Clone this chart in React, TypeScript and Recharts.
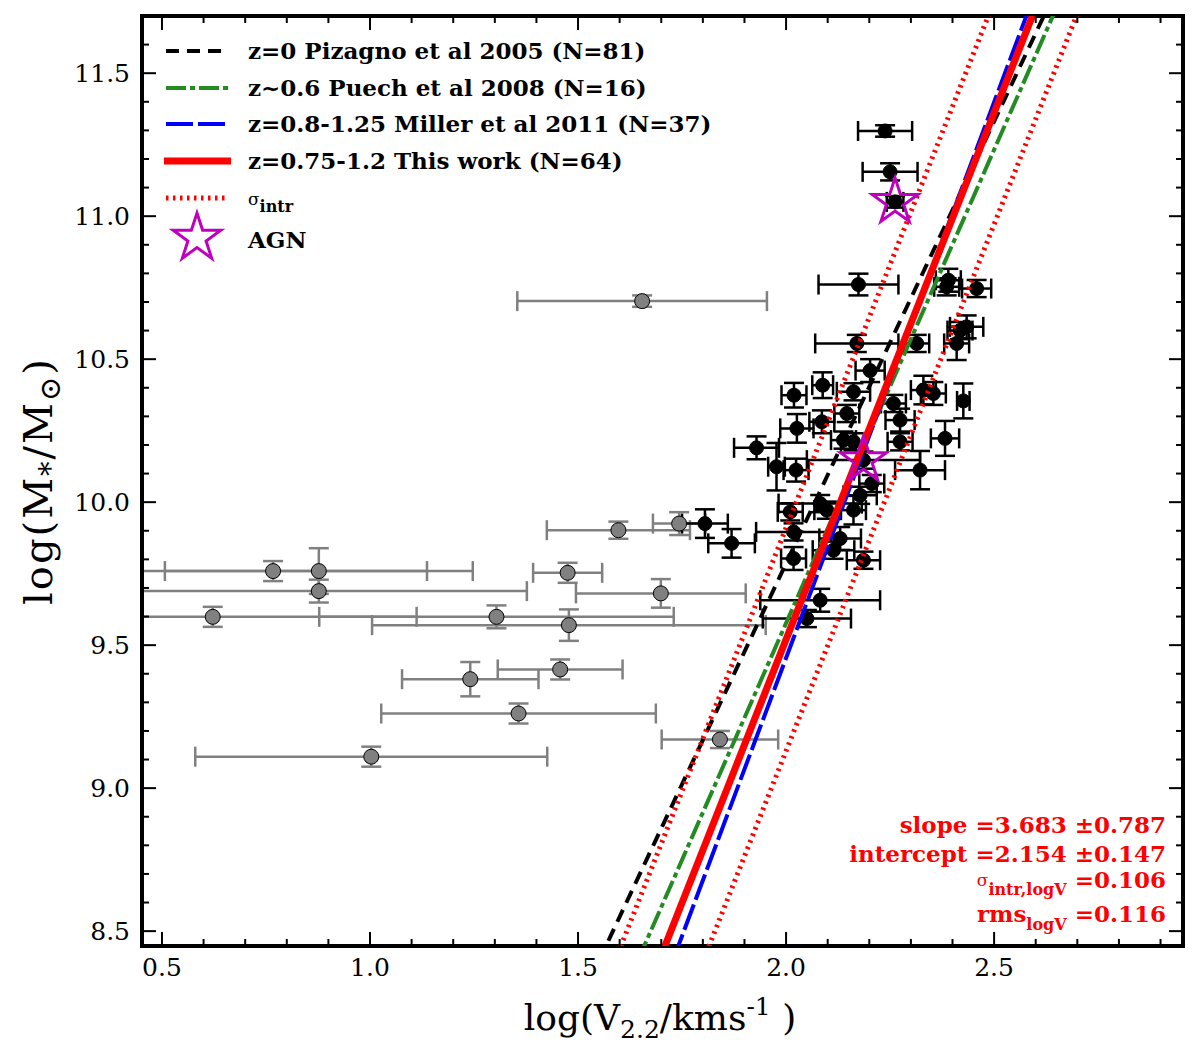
import React from 'react';
import { ComposedChart, Scatter, Line, XAxis, YAxis, ErrorBar } from 'recharts';

// ---------- data ----------
// grey points (excluded sample)
const greyX = [0.622, 0.767, 0.877, 0.877, 1.003, 1.241, 1.304, 1.357, 1.457, 1.475, 1.478, 1.597, 1.654, 1.699, 1.743, 1.841];
const greyY = [9.599, 9.759, 9.759, 9.689, 9.110, 9.381, 9.599, 9.261, 9.415, 9.753, 9.570, 9.902, 10.703, 9.681, 9.925, 9.170];
const greyXErr = [0.49, 0.37, 0.37, 0.50, 0.423, 0.164, 0.426, 0.33, 0.15, 0.083, 0.473, 0.172, 0.30, 0.204, 0.063, 0.14];
const greyYErr = [0.035, 0.035, 0.08, 0.04, 0.035, 0.06, 0.04, 0.035, 0.035, 0.035, 0.055, 0.03, 0.02, 0.05, 0.04, 0.03];

// black points (this work)
const blackX = [2.238, 2.250, 2.262, 2.174, 2.390, 2.386, 2.458, 2.418, 2.434, 2.410, 2.314, 2.170, 2.202, 2.088, 2.162, 2.019,
  2.330, 2.354, 2.426, 2.146, 2.258, 2.086, 2.026, 2.274, 2.138, 2.162, 1.929, 2.274, 2.382, 1.977, 2.024, 2.186,
  2.322, 2.206, 2.178, 2.082, 2.010, 2.098, 2.162, 2.018, 2.130, 2.114, 2.186, 2.018, 2.082, 2.050, 1.805, 1.869];
const blackY = [11.298, 11.155, 11.050, 10.761, 10.776, 10.753, 10.747, 10.600, 10.613, 10.555, 10.555, 10.555, 10.460, 10.409, 10.386, 10.374,
  10.392, 10.380, 10.354, 10.310, 10.345, 10.281, 10.258, 10.287, 10.217, 10.211, 10.190, 10.211, 10.223, 10.124, 10.112, 10.147,
  10.112, 10.065, 10.024, 9.995, 9.966, 9.972, 9.972, 9.896, 9.873, 9.832, 9.797, 9.803, 9.657, 9.593, 9.925, 9.856];
const blackXErr = [0.065, 0.066, 0.02, 0.096, 0.03, 0.03, 0.035, 0.03, 0.04, 0.03, 0.03, 0.10, 0.035, 0.025, 0.04, 0.03,
  0.03, 0.03, 0.015, 0.03, 0.03, 0.03, 0.04, 0.035, 0.03, 0.03, 0.054, 0.03, 0.034, 0.02, 0.03, 0.136,
  0.06, 0.03, 0.04, 0.10, 0.03, 0.03, 0.03, 0.09, 0.05, 0.05, 0.04, 0.03, 0.144, 0.106, 0.055, 0.056];
const blackYErr = [0.02, 0.03, 0.02, 0.038, 0.04, 0.03, 0.03, 0.03, 0.04, 0.058, 0.03, 0.03, 0.04, 0.045, 0.03, 0.043,
  0.05, 0.04, 0.061, 0.03, 0.03, 0.04, 0.05, 0.04, 0.03, 0.03, 0.04, 0.03, 0.061, 0.083, 0.04, 0.03,
  0.067, 0.03, 0.03, 0.03, 0.03, 0.03, 0.05, 0.03, 0.04, 0.03, 0.03, 0.04, 0.04, 0.03, 0.05, 0.05];

// AGN
const agnX = [2.262, 2.186];
const agnY = [11.05, 10.147];

// relations (end points read where they leave the frame)
const relY = [8.40, 11.75];
const pizagnoX = [1.5515, 2.6356];
const puechX = [1.6445, 2.6563];
const millerX = [1.7286, 2.5904];
const thisWorkX = [1.6959, 2.6055];
const sigmaLowX = [1.5900, 2.4996];
const sigmaHighX = [1.8018, 2.7114];

// ticks
const xTicks = [0.5, 0.6, 0.7, 0.8, 0.9, 1.0, 1.1, 1.2, 1.3, 1.4, 1.5, 1.6, 1.7, 1.8, 1.9, 2.0, 2.1, 2.2, 2.3, 2.4, 2.5, 2.6, 2.7, 2.8, 2.9];
const yTicks = [8.5, 8.6, 8.7, 8.8, 8.9, 9.0, 9.1, 9.2, 9.3, 9.4, 9.5, 9.6, 9.7, 9.8, 9.9, 10.0, 10.1, 10.2, 10.3, 10.4, 10.5,
  10.6, 10.7, 10.8, 10.9, 11.0, 11.1, 11.2, 11.3, 11.4, 11.5, 11.6];

// ---------- helpers ----------
const FONT = 'DejaVu Serif';
const isMajor = (v: number) => Math.abs(v * 2 - Math.round(v * 2)) < 1e-6;
const MAJ = 14;
const MIN = 7;

function BottomTick(props: any) {
  const { x, y, payload } = props;
  const v = payload.value;
  const m = isMajor(v);
  return (
    <g>
      <line x1={x} x2={x} y1={y} y2={y - (m ? MAJ : MIN)} stroke="#000" strokeWidth={2} />
      {m && (
        <text x={x} y={y + 30} textAnchor="middle" fontFamily={FONT} fontSize={25} fill="#000">
          {v.toFixed(1)}
        </text>
      )}
    </g>
  );
}
function TopTick(props: any) {
  const { x, y, payload } = props;
  const m = isMajor(payload.value);
  return <line x1={x} x2={x} y1={y} y2={y + (m ? MAJ : MIN)} stroke="#000" strokeWidth={2} />;
}
function LeftTick(props: any) {
  const { x, y, payload } = props;
  const v = payload.value;
  const m = isMajor(v);
  return (
    <g>
      <line x1={x} x2={x + (m ? MAJ : MIN)} y1={y} y2={y} stroke="#000" strokeWidth={2} />
      {m && (
        <text x={x - 12} y={y + 9} textAnchor="end" fontFamily={FONT} fontSize={25} fill="#000">
          {v.toFixed(1)}
        </text>
      )}
    </g>
  );
}
function RightTick(props: any) {
  const { x, y, payload } = props;
  const m = isMajor(payload.value);
  return <line x1={x} x2={x - (m ? MAJ : MIN)} y1={y} y2={y} stroke="#000" strokeWidth={2} />;
}

const starPath = (cx: number, cy: number, R: number) => {
  const r = R * 0.382;
  let d = '';
  for (let i = 0; i < 10; i++) {
    const rad = i % 2 === 0 ? R : r;
    const a = -Math.PI / 2 + (i * Math.PI) / 5;
    d += (i === 0 ? 'M' : 'L') + (cx + rad * Math.cos(a)).toFixed(2) + ',' + (cy + rad * Math.sin(a)).toFixed(2);
  }
  return d + 'Z';
};

const GreyDot = (p: any) => <circle cx={p.cx} cy={p.cy} r={7.5} fill="#808080" stroke="#000" strokeWidth={1} />;
const BlackDot = (p: any) => <circle cx={p.cx} cy={p.cy} r={7} fill="#000" stroke="#000" strokeWidth={1} />;
const StarShape = (p: any) => <path d={starPath(p.cx, p.cy, 24)} fill="none" stroke="#bf00bf" strokeWidth={3} />;

const frame = { stroke: '#000', strokeWidth: 4, strokeLinecap: 'square' as const };

export default function App() {
  const grey = greyX.map((x, i) => ({ x, y: greyY[i], ex: greyXErr[i], ey: greyYErr[i] }));
  const black = blackX.map((x, i) => ({ x, y: blackY[i], ex: blackXErr[i], ey: blackYErr[i] }));
  const agn = agnX.map((x, i) => ({ x, y: agnY[i] }));
  const rel = (xs: number[]) => xs.map((x, i) => ({ x, y: relY[i] }));

  // plot area: left 142, top 16, right 1183, bottom 946
  return (
    <div style={{ position: 'absolute', left: 0, top: 0, width: 1200, height: 1059, background: '#fff' }}>
      <style>{'.recharts-errorBar{clip-path:url(#plotAreaClip);}'}</style>
      <svg width={0} height={0} style={{ position: 'absolute' }}>
        <defs>
          <clipPath id="plotAreaClip" clipPathUnits="userSpaceOnUse">
            <rect x={142} y={16} width={1041} height={930} />
          </clipPath>
        </defs>
      </svg>
      <ComposedChart width={1200} height={1059} margin={{ top: 6, right: 7, bottom: 73, left: 82 }}>
        <XAxis xAxisId={0} dataKey="x" type="number" domain={[0.452, 2.954]} allowDataOverflow ticks={xTicks}
          interval={0} tickSize={0} tickMargin={0} height={40} axisLine={frame} tickLine={false} tick={BottomTick} />
        <XAxis xAxisId="top" orientation="top" dataKey="x" type="number" domain={[0.452, 2.954]} allowDataOverflow
          ticks={xTicks} interval={0} tickSize={0} tickMargin={0} height={10} axisLine={frame} tickLine={false} tick={TopTick} />
        <YAxis yAxisId={0} dataKey="y" type="number" domain={[8.448, 11.7]} allowDataOverflow ticks={yTicks}
          interval={0} tickSize={0} tickMargin={0} width={60} axisLine={frame} tickLine={false} tick={LeftTick} />
        <YAxis yAxisId="right" orientation="right" dataKey="y" type="number" domain={[8.448, 11.7]} allowDataOverflow
          ticks={yTicks} interval={0} tickSize={0} tickMargin={0} width={10} axisLine={frame} tickLine={false} tick={RightTick} />

        <Scatter data={grey} shape={GreyDot} isAnimationActive={false}>
          <ErrorBar dataKey="ex" direction="x" width={10} stroke="#808080" strokeWidth={2.5} isAnimationActive={false} />
          <ErrorBar dataKey="ey" direction="y" width={10} stroke="#808080" strokeWidth={2.5} isAnimationActive={false} />
        </Scatter>
        <Scatter data={black} shape={BlackDot} isAnimationActive={false}>
          <ErrorBar dataKey="ex" direction="x" width={10} stroke="#000" strokeWidth={2.5} isAnimationActive={false} />
          <ErrorBar dataKey="ey" direction="y" width={10} stroke="#000" strokeWidth={2.5} isAnimationActive={false} />
        </Scatter>

        <Line data={rel(pizagnoX)} dataKey="y" type="linear" stroke="#000" strokeWidth={4} strokeDasharray="13 8" dot={false} activeDot={false} isAnimationActive={false} zIndex={700} />
        <Line data={rel(puechX)} dataKey="y" type="linear" stroke="#228b22" strokeWidth={4} strokeDasharray="20 4 5 4" dot={false} activeDot={false} isAnimationActive={false} zIndex={700} />
        <Line data={rel(millerX)} dataKey="y" type="linear" stroke="#0000ff" strokeWidth={4} strokeDasharray="27 5" dot={false} activeDot={false} isAnimationActive={false} zIndex={700} />
        <Line data={rel(thisWorkX)} dataKey="y" type="linear" stroke="#ff0000" strokeWidth={7} dot={false} activeDot={false} isAnimationActive={false} zIndex={700} />
        <Line data={rel(sigmaLowX)} dataKey="y" type="linear" stroke="#ff0000" strokeWidth={5} strokeDasharray="2.5 4.5" dot={false} activeDot={false} isAnimationActive={false} zIndex={700} />
        <Line data={rel(sigmaHighX)} dataKey="y" type="linear" stroke="#ff0000" strokeWidth={5} strokeDasharray="2.5 4.5" dot={false} activeDot={false} isAnimationActive={false} zIndex={700} />

        <Scatter data={agn} shape={StarShape} isAnimationActive={false} zIndex={800} />
      </ComposedChart>

      <svg width={1200} height={1059} style={{ position: 'absolute', left: 0, top: 0, pointerEvents: 'none' }}>
        {/* legend */}
        <line x1={166} x2={228} y1={51} y2={51} stroke="#000" strokeWidth={4} strokeDasharray="13 8" />
        <line x1={166} x2={228} y1={88} y2={88} stroke="#228b22" strokeWidth={4} strokeDasharray="20 4 5 4" />
        <line x1={166} x2={228} y1={124} y2={124} stroke="#0000ff" strokeWidth={4} strokeDasharray="27 5" />
        <line x1={164} x2={231} y1={161} y2={161} stroke="#ff0000" strokeWidth={7} />
        <line x1={166} x2={229} y1={198} y2={198} stroke="#ff0000" strokeWidth={5} strokeDasharray="2.5 4.5" />
        <path d={starPath(197, 238, 25)} fill="none" stroke="#bf00bf" strokeWidth={3} />
        <g fontFamily={FONT} fontWeight="bold" fontSize={23} fill="#000">
          <text x={248} y={59}>z=0 Pizagno et al 2005 (N=81)</text>
          <text x={248} y={96}>z~0.6 Puech et al 2008 (N=16)</text>
          <text x={248} y={132}>z=0.8-1.25 Miller et al 2011 (N=37)</text>
          <text x={248} y={169}>z=0.75-1.2 This work (N=64)</text>
          <text x={248} y={205}>
            <tspan fontWeight="normal" fontSize={17}>σ</tspan>
            <tspan fontSize={16} dy={7}>intr</tspan>
          </text>
          <text x={248} y={248}>AGN</text>
        </g>

        {/* fit statistics */}
        <g fontFamily={FONT} fontWeight="bold" fontSize={23} fill="#ff0000" textAnchor="end">
          <text x={1166} y={833}>slope =3.683 ±0.787</text>
          <text x={1166} y={862}>intercept =2.154 ±0.147</text>
          <text x={1166} y={888}>
            <tspan fontWeight="normal" fontSize={17} dy={-2}>σ</tspan>
            <tspan fontSize={16} dy={9}>intr,logV</tspan>
            <tspan dy={-7}> =0.106</tspan>
          </text>
          <text x={1166} y={922}>
            rms<tspan fontSize={16} dy={8}>logV</tspan>
            <tspan dy={-8}> =0.116</tspan>
          </text>
        </g>

        {/* axis labels */}
        <text x={660} y={1030} textAnchor="middle" fontFamily={FONT} fontSize={36} fill="#000">
          log(V<tspan fontSize={25} dy={8}>2.2</tspan>
          <tspan dy={-8}>/kms</tspan>
          <tspan fontSize={25} dy={-15}>-1</tspan>
          <tspan dy={15}> )</tspan>
        </text>
        <text transform="translate(52,481) rotate(-90)" textAnchor="middle" fontFamily={FONT} fontSize={40} fill="#000" letterSpacing={2}>
          log(M<tspan fontSize={29} dy={8}>*</tspan>
          <tspan dy={-8}>/M</tspan>
          <tspan fontSize={29} dy={8}>⊙</tspan>
          <tspan dy={-8}>)</tspan>
        </text>
      </svg>
    </div>
  );
}
